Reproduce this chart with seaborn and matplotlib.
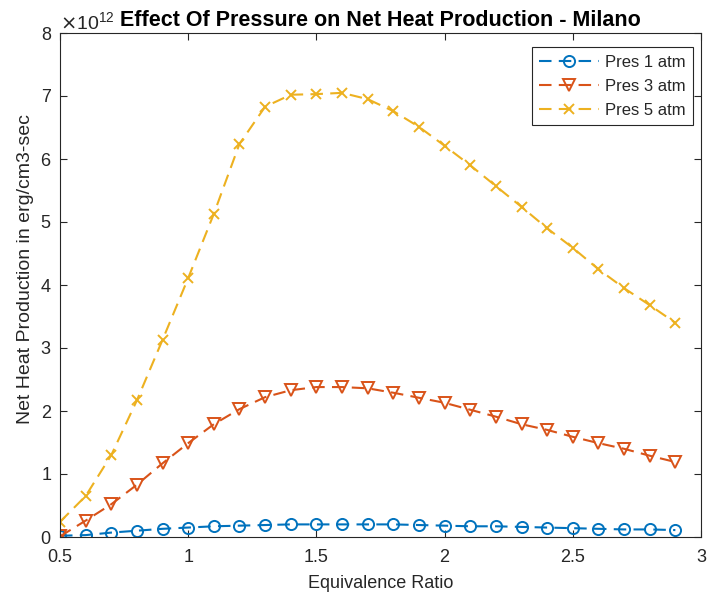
import matplotlib
matplotlib.use("Agg")
import matplotlib.pyplot as plt
from matplotlib.ticker import ScalarFormatter
import numpy as np
import pandas as pd
import seaborn as sns

sns.set_theme(style="white")
plt.rcParams["font.family"] = ["Liberation Sans", "DejaVu Sans"]

# Equivalence ratio sweep
phi = [0.5, 0.6, 0.7, 0.8, 0.9, 1.0, 1.1, 1.2, 1.3, 1.4, 1.5, 1.6, 1.7,
       1.8, 1.9, 2.0, 2.1, 2.2, 2.3, 2.4, 2.5, 2.6, 2.7, 2.8, 2.9]

# Net heat production (units of 1e12 erg/cm3-sec)
pres_1 = [0.02, 0.03, 0.07, 0.10, 0.13, 0.15, 0.17, 0.18, 0.19, 0.20, 0.20, 0.20, 0.20,
          0.20, 0.19, 0.18, 0.17, 0.17, 0.16, 0.15, 0.14, 0.13, 0.12, 0.12, 0.11]
pres_3 = [0.01, 0.26, 0.52, 0.83, 1.17, 1.49, 1.79, 2.03, 2.22, 2.33, 2.38, 2.38, 2.36,
          2.29, 2.21, 2.13, 2.02, 1.91, 1.79, 1.70, 1.59, 1.49, 1.40, 1.29, 1.19]
pres_5 = [0.24, 0.65, 1.30, 2.17, 3.13, 4.11, 5.13, 6.24, 6.83, 7.02, 7.03, 7.05, 6.95,
          6.76, 6.51, 6.21, 5.90, 5.57, 5.24, 4.90, 4.59, 4.25, 3.95, 3.68, 3.40]

labels = ["Pres 1 atm", "Pres 3 atm", "Pres 5 atm"]
colors = ["#0072BD", "#D95319", "#EDB120"]
markers = ["o", "v", "x"]
msizes = [8, 9, 7]
scale = 1e12

frames = []
for lab, vals in zip(labels, [pres_1, pres_3, pres_5]):
    frames.append(pd.DataFrame({"phi": phi,
                                "heat": np.array(vals) * scale,
                                "series": lab}))
df = pd.concat(frames, ignore_index=True)

fig = plt.figure(figsize=(7.07, 6.01), dpi=100)
ax = fig.add_axes([60 / 707, 1 - 537 / 601, 641 / 707, 504 / 601])

for lab, col, mk, ms in zip(labels, colors, markers, msizes):
    sub = df[df["series"] == lab]
    sns.lineplot(data=sub, x="phi", y="heat", ax=ax, color=col,
                 linestyle=(0, (6, 3.5)), linewidth=1.5,
                 marker=mk, markersize=ms, markerfacecolor="none",
                 markeredgecolor=col, markeredgewidth=1.4, label=lab)

ax.set_xlim(0.5, 3)
ax.set_ylim(0, 8e12)
ax.set_xticks([0.5, 1, 1.5, 2, 2.5, 3])
ax.set_xticklabels(["0.5", "1", "1.5", "2", "2.5", "3"])
ax.set_yticks(np.arange(0, 9) * scale)

fmt = ScalarFormatter(useMathText=True)
fmt.set_powerlimits((0, 0))
ax.yaxis.set_major_formatter(fmt)
ax.yaxis.get_offset_text().set_fontsize(14)
ax.yaxis.get_offset_text().set_color("#262626")

edge = "#262626"
for sp in ax.spines.values():
    sp.set_visible(True)
    sp.set_color(edge)
    sp.set_linewidth(0.8)
ax.tick_params(axis="both", direction="in", length=5, width=0.8, colors=edge,
               labelsize=13, top=True, right=True, bottom=True, left=True,
               labeltop=False, labelright=False)
ax.tick_params(axis="x", pad=9)
ax.tick_params(axis="y", pad=6)
ax.grid(False)

ax.set_xlabel("Equivalence Ratio", fontsize=13, color=edge, labelpad=6)
ax.set_ylabel("Net Heat Production in erg/cm3-sec", fontsize=14, color=edge)
ax.yaxis.set_label_coords(-0.040, 0.532)
ax.set_title("Effect Of Pressure on Net Heat Production - Milano",
             fontsize=15.5, fontweight="bold", color="black", pad=5)

leg = ax.legend(loc="upper right", bbox_to_anchor=(0.9875, 0.972), fontsize=12,
                frameon=True, fancybox=False, edgecolor=edge, framealpha=1,
                borderpad=0.45, labelspacing=0.55, handlelength=3.6,
                handletextpad=0.35, borderaxespad=0.0)
leg.get_frame().set_linewidth(0.8)

fig.savefig("out.png", dpi=100, facecolor="white")
